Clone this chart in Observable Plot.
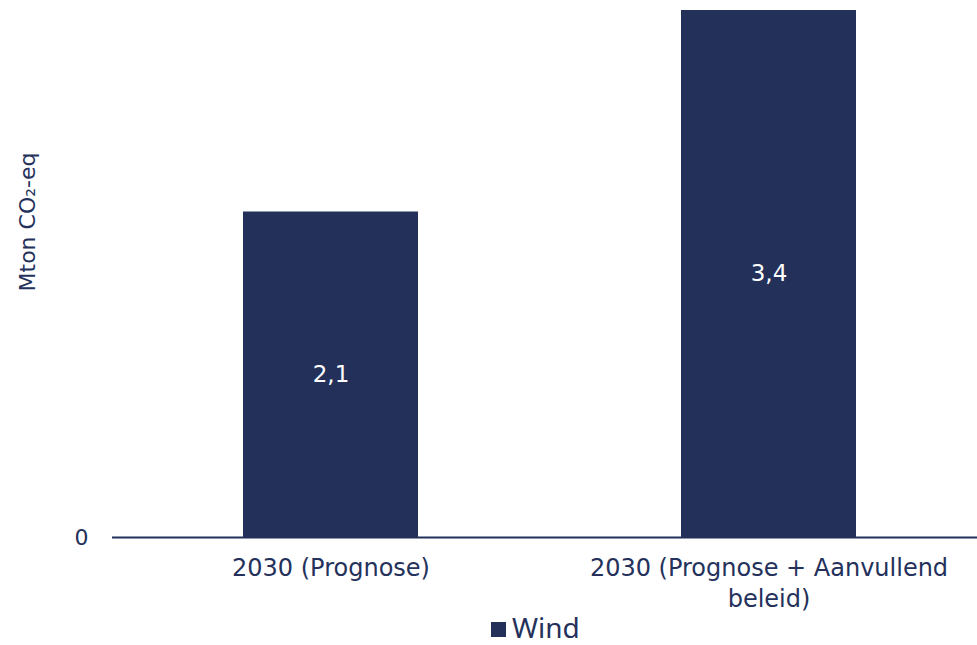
<!DOCTYPE html>
<html>
<head>
<meta charset="utf-8">
<script src="https://cdn.jsdelivr.net/npm/d3@7"></script>
<script src="https://cdn.jsdelivr.net/npm/@observablehq/plot@0.6"></script>
<style>
  html, body { margin: 0; padding: 0; background: #ffffff; }
  #wrap { position: relative; width: 977px; height: 645px; overflow: hidden; }
  #legend {
    position: absolute; left: 491px; top: 613px;
    display: flex; align-items: center; gap: 6px;
    font-family: "Noto Sans", "Open Sans", sans-serif; font-size: 28px; line-height: 29px; color: #24315b;
  }
  #legend .sw { width: 15px; height: 15px; background: #22305a; margin-top: 4px; }
</style>
</head>
<body>
<div id="wrap">
  <div id="chart"></div>
  <div id="legend"><span class="sw"></span><span id="legend-label"></span></div>
</div>
<script>
// Emission reduction from wind, 2030 scenarios (Mton CO2-eq)
const categories = ["2030 (Prognose)", "2030 (Prognose + Aanvullend beleid)"];
const tickLabels = ["2030 (Prognose)", "2030 (Prognose + Aanvullend\nbeleid)"];
const windValues = [2.1, 3.4];
const seriesName = "Wind";
const yLabel = "Mton CO₂-eq";
const yTicks = [0];

const navy = "#22305a";
const textColor = "#24315b";

const nl = d3.formatLocale({decimal: ",", thousands: ".", grouping: [3], currency: ["€", ""]});
const fmt = nl.format(".1f");

const rows = categories.map((c, i) => ({category: c, value: windValues[i]}));

const chart = Plot.plot({
  width: 977,
  height: 645,
  marginTop: 10,
  marginLeft: 112,
  marginRight: 0,
  marginBottom: 108,
  style: {fontFamily: "'DejaVu Sans', Verdana, sans-serif", color: textColor, background: "#ffffff"},
  x: {domain: categories, paddingInner: 0.6, paddingOuter: 0.2874, align: 0.52},
  y: {domain: [0, 3.4]},
  marks: [
    Plot.barY(rows, {x: "category", y: "value", fill: navy}),
    Plot.ruleY([0], {stroke: navy, strokeWidth: 2}),
    Plot.text(rows, {x: "category", y: d => d.value / 2, text: d => fmt(d.value), fill: "#ffffff", fontSize: 23}),
    Plot.axisX({
      tickSize: 0, tickPadding: 16, fontSize: 24, label: null, lineHeight: 1.3,
      tickFormat: d => tickLabels[categories.indexOf(d)]
    }),
    Plot.axisY({ticks: yTicks, tickSize: 0, tickPadding: 24, fontSize: 22, label: null, tickFormat: d => fmt(d).replace(",0", "")}),
    Plot.text([yLabel], {frameAnchor: "left", textAnchor: "middle", rotate: -90, dx: -85, dy: -52, fontSize: 22, fill: textColor})
  ]
});

document.getElementById("chart").appendChild(chart);
document.getElementById("legend-label").textContent = seriesName;
</script>
</body>
</html>
